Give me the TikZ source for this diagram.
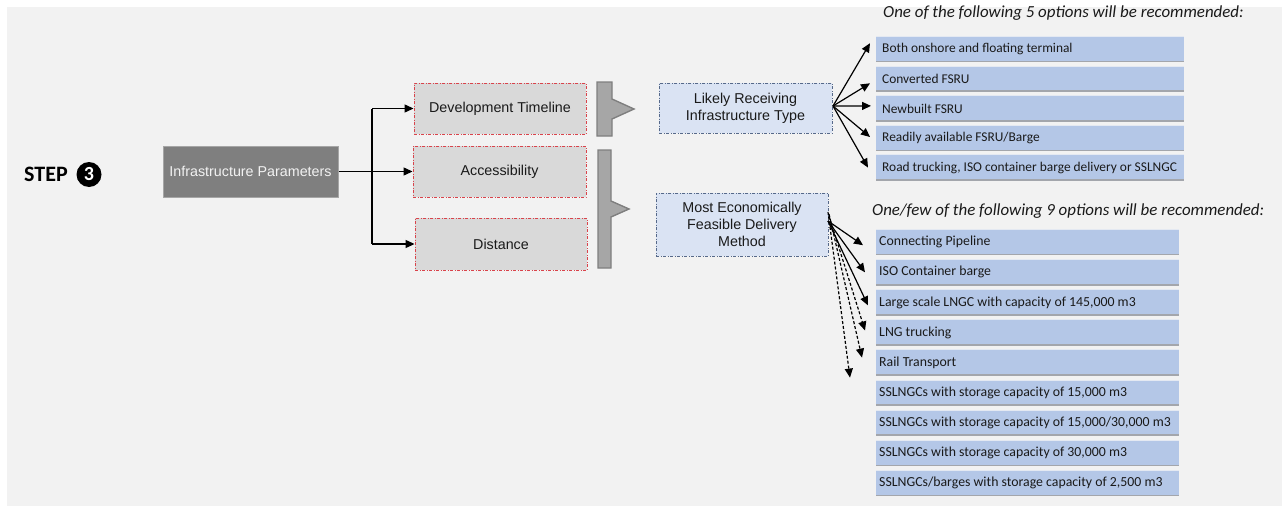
\documentclass[tikz,border=0pt]{standalone}
\usepackage{fontspec}
\usetikzlibrary{arrows.meta,calc}
\newfontfamily\arialf{Liberation Sans}
\newfontfamily\calf{Carlito}

\definecolor{bggray}{HTML}{F2F2F2}
\definecolor{infragray}{HTML}{7F7F7F}
\definecolor{infraedge}{HTML}{A6A6A6}
\definecolor{paramfill}{HTML}{D9D9D9}
\definecolor{dashred}{HTML}{D9434B}
\definecolor{brfill}{HTML}{A6A6A6}
\definecolor{bredge}{HTML}{7F7F7F}
\definecolor{lightblue}{HTML}{DAE3F3}
\definecolor{bluedash}{HTML}{56698A}
\definecolor{optblue}{HTML}{B4C7E7}
\definecolor{optedge}{HTML}{A3A6AC}
\definecolor{opttop}{HTML}{E4E9F2}
\definecolor{txt}{HTML}{1A1A1A}

% left-aligned label of fixed width inside an option bar
\newcommand\optline[2]{\makebox[#1][l]{#2}}

\tikzset{
  boxfont/.style={font=\arialf\fontsize{14.3}{17}\selectfont, text=txt},
  infrabox/.style={boxfont, fill=infragray, draw=infraedge, line width=1pt,
    minimum width=175, minimum height=51, inner sep=0, text=bggray},
  parambox/.style={boxfont, fill=paramfill, draw=dashred, line width=0.9pt,
    dash pattern=on 3pt off 1.5pt on 1pt off 1.5pt,
    minimum width=172, minimum height=51, inner sep=0},
  resultbox/.style={boxfont, fill=lightblue, draw=bluedash, line width=0.9pt,
    dash pattern=on 3pt off 1.5pt on 1pt off 1.5pt,
    minimum width=172, inner sep=0, align=center},
  optbox/.style={font=\calf\fontsize{13.4}{15}\selectfont, text=txt,
    fill=optblue, anchor=north west, minimum height=26,
    inner xsep=6, inner ysep=0},
  hdr/.style={font=\calf\itshape\fontsize{16.9}{19}\selectfont, text=txt,
    anchor=base west, inner sep=0},
  bracket/.style={fill=brfill, draw=bredge, line width=1.4pt, line join=miter},
  link/.style={draw=black, line width=1.2pt},
  arr/.style={link, -{Triangle[length=9pt,width=8pt]}},
  darr/.style={arr, dash pattern=on 3pt off 2pt},
}

\begin{document}
\begin{tikzpicture}[x=1pt,y=-1pt]
  % canvas
  \fill[white] (0,0) rectangle (1282,506);
  \fill[bggray] (7,7) rectangle (1282,506);
  \useasboundingbox (0,0) rectangle (1282,506);

  % step label
  \node[font=\calf\bfseries\fontsize{22}{24}\selectfont, anchor=base west, inner sep=0]
    (steplabel) at (24,181) {STEP};
  \node[circle, fill=black, minimum size=25, inner sep=0, text=white,
    font=\calf\bfseries\fontsize{20}{22}\selectfont] (stepnum) at (89,174.5) {3};

  % input and parameter boxes
  \node[infrabox] (infra) at (250.5,171.5) {Infrastructure Parameters};
  \node[parambox] (dev)  at (500,108.5) {Development Timeline};
  \node[parambox, minimum width=173] (acc)  at (499.5,171.5) {Accessibility};
  \node[parambox, minimum height=52] (dist) at (501,244) {Distance};

  \coordinate (split) at (372,171.5);
  \draw[link] (infra.east) -- (split);
  \draw[link] (split |- dev.west) -- (split |- dist.west);
  \draw[arr] (split |- dev.west) -- (dev.west);
  \draw[arr] (split) -- (acc.west);
  \draw[arr] (split |- dist.west) -- (dist.west);

  % brackets
  \draw[bracket] (597,82) -- (612,82) -- (612,99) -- (634,109) -- (612,119)
    -- (612,136) -- (597,136) -- cycle;
  \draw[bracket] (598,150) -- (611,150) -- (611,201) -- (629,209) -- (611,217)
    -- (611,268) -- (598,268) -- cycle;

  % results
  \node[resultbox, minimum width=173, minimum height=50] (likely) at (745.5,108)
    {Likely Receiving\\Infrastructure Type};
  \node[resultbox, minimum height=63] (most) at (742,224.5)
    {Most Economically\\Feasible Delivery\\Method};

  % receiving infrastructure options
  \node[hdr] (hdrA) at (883,17) {One of the following 5 options will be recommended:};
  \foreach \t [count=\i] in {Both onshore and floating terminal, Converted FSRU,
      Newbuilt FSRU, Readily available FSRU/Barge,
      Road trucking{,} ISO container barge delivery or SSLNGC}{
    \node[optbox] (a\i) at (876,{36+29.6*(\i-1)}) {\optline{296pt}{\t}};
    \draw[opttop, line width=1pt] ([yshift=-0.5]a\i.north west) -- ([yshift=-0.5]a\i.north east);
    \draw[optedge, line width=1.6pt] ([yshift=0.8]a\i.south west) -- ([yshift=0.8]a\i.south east);
  }

  % delivery method options
  \node[hdr] (hdrB) at (872,215) {One/few of the following 9 options will be recommended:};
  \foreach \t [count=\i] in {Connecting Pipeline, ISO Container barge,
      Large scale LNGC with capacity of 145{,}000 m3, LNG trucking, Rail Transport,
      SSLNGCs with storage capacity of 15{,}000 m3,
      SSLNGCs with storage capacity of 15{,}000/30{,}000 m3,
      SSLNGCs with storage capacity of 30{,}000 m3,
      SSLNGCs/barges with storage capacity of 2{,}500 m3}{
    \node[optbox, inner xsep=3, font=\calf\fontsize{13.8}{15}\selectfont] (b\i)
      at (876,{229+30.1*(\i-1)}) {\optline{297pt}{\t}};
    \draw[opttop, line width=1pt] ([yshift=-0.5]b\i.north west) -- ([yshift=-0.5]b\i.north east);
    \draw[optedge, line width=1.6pt] ([yshift=0.8]b\i.south west) -- ([yshift=0.8]b\i.south east);
  }

  % fan from receiving infrastructure type
  \coordinate (lfan) at (833,106);
  \coordinate (ta1) at ($(a1.west)+(-6,-6)$);
  \coordinate (ta2) at ($(a2.west)+(-6,4.5)$);
  \coordinate (ta3) at ($(a3.west)+(-5,-2.5)$);
  \coordinate (ta4) at ($(a4.west)+(-6,-1)$);
  \coordinate (ta5) at ($(a5.west)+(-8,0)$);
  \foreach \k in {1,...,5}{ \draw[arr] (lfan) -- (ta\k); }

  % fan from delivery method
  \coordinate (mfan) at (828,221);
  \coordinate (tb1) at ($(b1.west)+(-13,3)$);
  \coordinate (tb2) at ($(b2.west)+(-11,0)$);
  \coordinate (tb3) at ($(b3.west)+(-8,3)$);
  \coordinate (tb4) at ($(b4.west)+(-11,-2)$);
  \coordinate (tb5) at ($(b5.west)+(-14,-5)$);
  \coordinate (tb6) at ($(b5.west)+(-26,15)$);
  \foreach \k in {1,2,3}{ \draw[arr] (mfan) -- (tb\k); }
  \draw[darr] ([xshift=1,yshift=5]mfan) -- (tb4);
  \draw[darr] ([xshift=1,yshift=7]mfan) -- (tb5);
  \draw[darr] ([xshift=0,yshift=9]mfan) -- (tb6);
\end{tikzpicture}
\end{document}
